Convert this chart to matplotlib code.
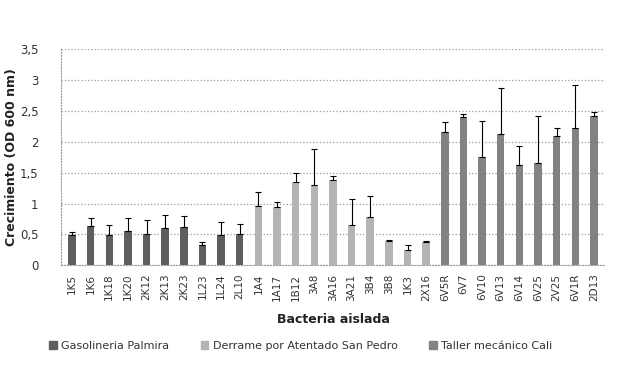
import numpy as np
import matplotlib
matplotlib.use('Agg')
import matplotlib.pyplot as plt
from matplotlib.patches import Patch

## strain names, grouped by sampling site
cepas = ['1K5', '1K6', '1K18', '1K20', '2K12', '2K13', '2K23', '1L23', '1L24', '2L10',
         '1A4', '1A17', '1B12', '3A8', '3A16', '3A21', '3B4', '3B8', '1K3', '2X16',
         '6V5R', '6V7', '6V10', '6V13', '6V14', '6V25', '2V25', '6V1R', '2D13']
## growth (OD 600 nm)
crecimiento = [0.49, 0.64, 0.49, 0.55, 0.51, 0.60, 0.62, 0.33, 0.49, 0.51,
               0.96, 0.95, 1.35, 1.30, 1.39, 0.66, 0.79, 0.39, 0.25, 0.37,
               2.16, 2.41, 1.75, 2.12, 1.63, 1.65, 2.09, 2.22, 2.42]
## upper end of the error bars
err_top = [0.54, 0.77, 0.66, 0.77, 0.73, 0.81, 0.80, 0.37, 0.70, 0.67,
           1.18, 1.03, 1.50, 1.89, 1.45, 1.07, 1.12, 0.41, 0.33, 0.39,
           2.32, 2.46, 2.34, 2.87, 1.94, 2.42, 2.22, 2.92, 2.49]
grupo = [0]*10 + [1]*10 + [2]*9
sitios = ['Gasolineria Palmira', 'Derrame por Atentado San Pedro', 'Taller mecánico Cali']
colores = ['#5e5e5e', '#b4b4b4', '#828282']

plt.rcParams['font.family'] = ['DejaVu Sans']

fig = plt.figure(figsize=(6.2, 3.71), dpi=100)
ax = fig.add_axes([0.098, 0.285, 0.878, 0.582])

x = np.arange(len(cepas))
y = np.array(crecimiento)
yerr = np.array(err_top) - y
ax.bar(x, y, width=0.4, color=[colores[g] for g in grupo], zorder=2)
ax.errorbar(x, y, yerr=[np.zeros_like(yerr), yerr], fmt='none', ecolor='black',
            elinewidth=0.8, capsize=2, capthick=0.8, zorder=3)

ax.set_xlim(-0.6, len(cepas) - 0.4)
ax.set_ylim(0, 3.5)
yt = np.arange(0, 3.51, 0.5)
ax.set_yticks(yt)
ax.set_yticklabels([('%g' % v).replace('.', ',') for v in yt], fontsize=8.5, color='#333333')
ax.set_xticks(x)
ax.set_xticklabels(cepas, rotation=90, fontsize=7.5, color='#333333')
ax.tick_params(axis='x', length=0, pad=6)
ax.tick_params(axis='y', length=0, pad=16)
ax.yaxis.grid(True, linestyle=':', color='#999999', linewidth=0.9, zorder=0)
for s in ['top', 'right']:
    ax.spines[s].set_visible(False)
for s in ['left', 'bottom']:
    ax.spines[s].set_linestyle(':')
    ax.spines[s].set_color('#999999')

ax.set_ylabel('Crecimiento (OD 600 nm)', fontsize=9, fontweight='bold', color='#222222')
ax.yaxis.set_label_coords(-0.078, 0.5)
ax.set_xlabel('Bacteria aislada', fontsize=9, fontweight='bold', color='#222222', labelpad=8)

handles = [Patch(color=c, label=l) for c, l in zip(colores, sitios)]
fig.legend(handles=handles, loc='center', bbox_to_anchor=(0.485, 0.068), ncol=3,
           frameon=False, fontsize=8, handlelength=0.7, handleheight=0.7,
           handletextpad=0.4, columnspacing=2.8, labelcolor='#333333')

fig.savefig('out.png', dpi=100)
